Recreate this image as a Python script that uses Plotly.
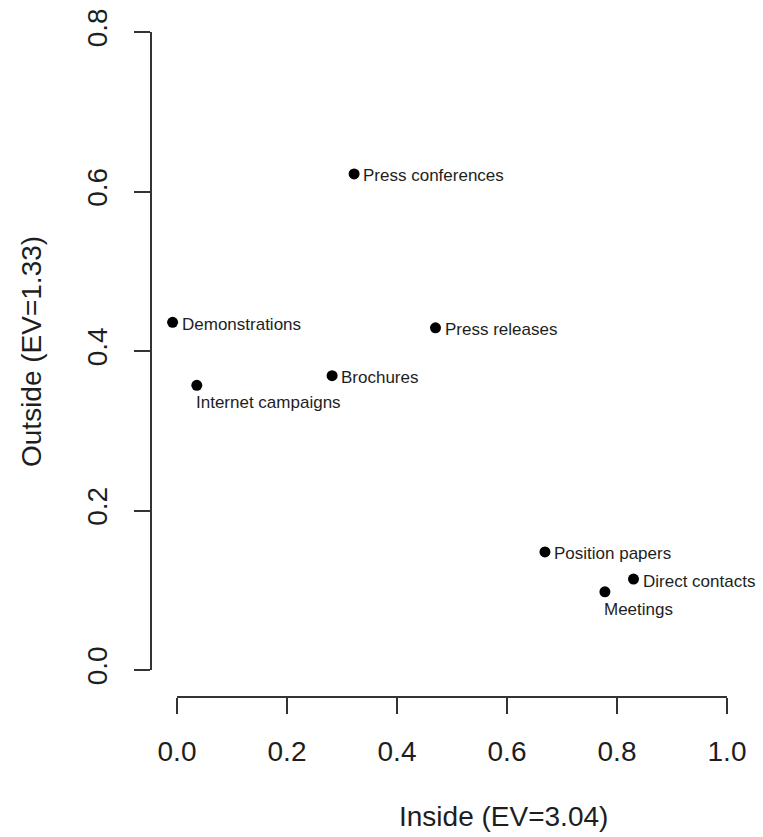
import plotly.graph_objects as go

# Item loadings on the two dimensions
items = ["Press conferences", "Demonstrations", "Press releases", "Brochures",
         "Internet campaigns", "Position papers", "Direct contacts", "Meetings"]
inside = [0.322, -0.008, 0.470, 0.282, 0.036, 0.669, 0.830, 0.778]
outside = [0.622, 0.436, 0.429, 0.369, 0.357, 0.148, 0.114, 0.098]

x_ticks = [0.0, 0.2, 0.4, 0.6, 0.8, 1.0]
y_ticks = [0.0, 0.2, 0.4, 0.6, 0.8]

x_title = "Inside (EV=3.04)"
y_title = "Outside (EV=1.33)"

# label placement per item: "right" of the dot, or "below" it
label_side = ["right", "right", "right", "right",
              "below", "right", "right", "below"]

W, H = 763, 837
ML, MR, MT, MB = 151, 8, 20, 140
FONT = "Liberation Sans, Arial, Helvetica, sans-serif"
INK = "#1e1e1e"

# data-to-pixel scale of the plotting region
px_x0, px_x1 = 177, 727      # pixel x of 0.0 and 1.0
px_y0, px_y8 = 670, 32       # pixel y of 0.0 and 0.8
sx = (px_x1 - px_x0) / 1.0
sy = (px_y0 - px_y8) / 0.8
x_range = [(ML - px_x0) / sx, (W - MR - px_x0) / sx]
y_range = [(px_y0 - (H - MB)) / sy, (px_y0 - MT) / sy]

fig = go.Figure()
fig.add_trace(go.Scatter(
    x=inside, y=outside, mode="markers",
    marker=dict(color="black", size=11),
    hoverinfo="skip", showlegend=False, cliponaxis=False,
))

# point labels
for name, xv, yv, side in zip(items, inside, outside, label_side):
    if side == "right":
        place = dict(xanchor="left", yanchor="middle", xshift=8, yshift=-2)
    else:
        place = dict(xanchor="left", yanchor="top", xshift=-2, yshift=-7)
    fig.add_annotation(x=xv, y=yv, xref="x", yref="y", text=name,
                       showarrow=False, borderpad=0,
                       font=dict(family=FONT, size=17, color=INK), **place)

axis_common = dict(
    showgrid=False, zeroline=False, showline=False,
    ticks="outside", ticklen=16, tickwidth=2, tickcolor="#333333",
    tickfont=dict(family=FONT, size=28, color=INK),
    tickformat=".1f",
)
fig.update_xaxes(range=x_range, tickmode="array", tickvals=x_ticks,
                 ticklabelstandoff=13, **axis_common)
fig.update_yaxes(range=y_range, tickmode="array", tickvals=y_ticks,
                 tickangle=-90, ticklabelstandoff=16, **axis_common)

# detached axis lines spanning first to last tick
fig.add_shape(type="line", xref="x", yref="paper",
              x0=x_ticks[0], x1=x_ticks[-1], y0=0, y1=0,
              line=dict(color="#333333", width=2))
fig.add_shape(type="line", xref="paper", yref="y",
              x0=0, x1=0, y0=y_ticks[0], y1=y_ticks[-1],
              line=dict(color="#333333", width=2))

plot_w = W - ML - MR
plot_h = H - MT - MB
fig.add_annotation(text=x_title, xref="paper", yref="paper",
                   x=(503 - ML) / plot_w, y=((H - MB) - 816) / plot_h,
                   xanchor="center", yanchor="middle", showarrow=False,
                   font=dict(family=FONT, size=28, color=INK))
fig.add_annotation(text=y_title, xref="paper", yref="paper",
                   x=(31 - ML) / plot_w, y=((H - MB) - 352) / plot_h,
                   xanchor="center", yanchor="middle", textangle=-90,
                   showarrow=False,
                   font=dict(family=FONT, size=28, color=INK))

fig.update_layout(
    width=W, height=H,
    margin=dict(l=ML, r=MR, t=MT, b=MB),
    paper_bgcolor="white", plot_bgcolor="white",
)

fig.write_html("out.html")
